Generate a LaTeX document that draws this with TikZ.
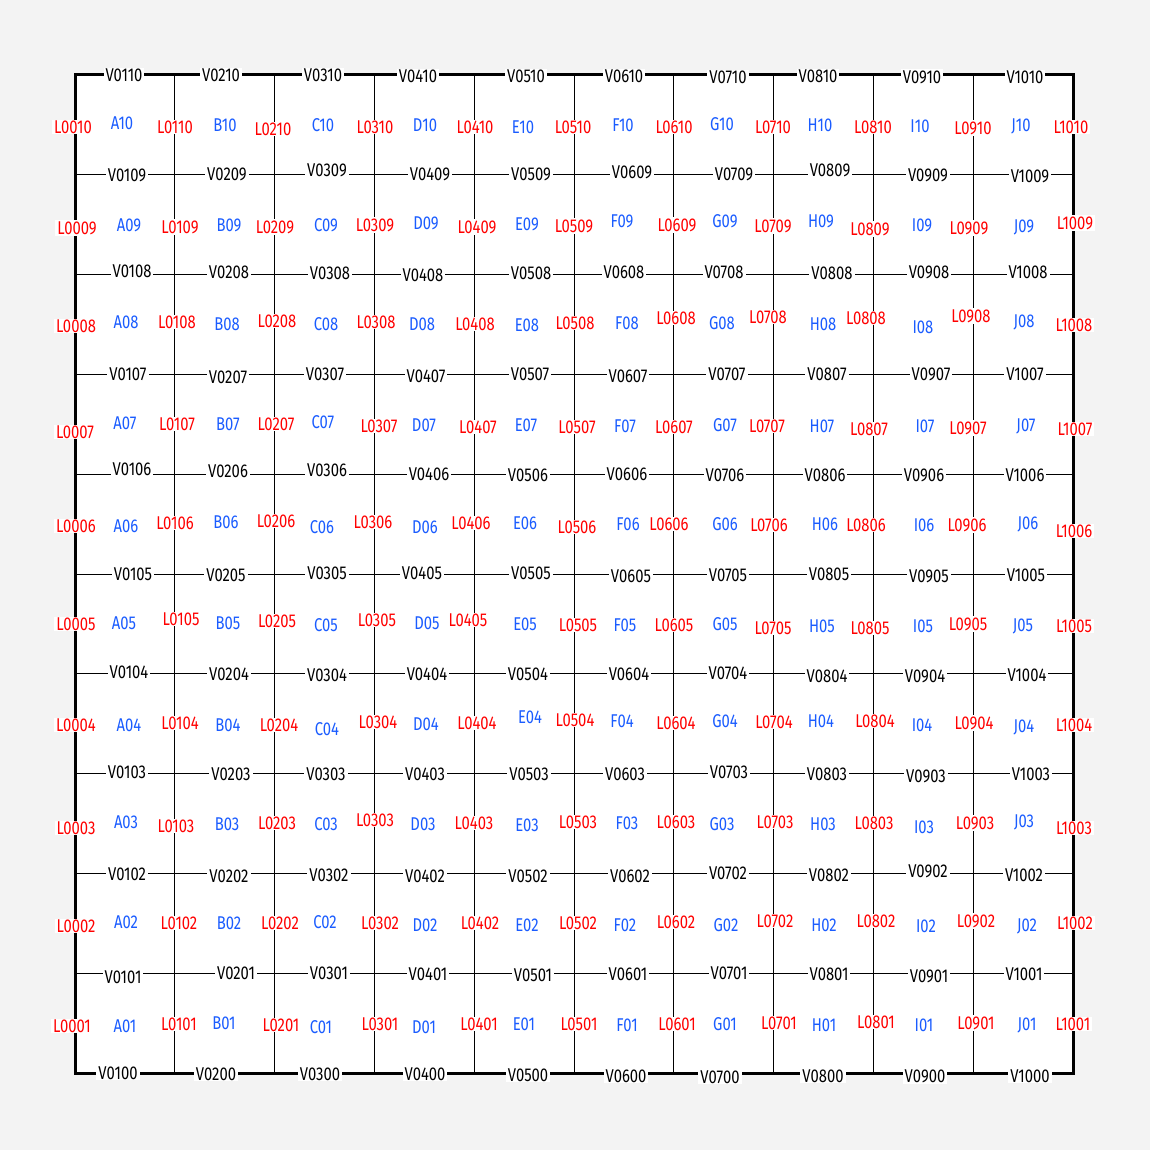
\documentclass[tikz,border=0pt]{standalone}
\usepackage{fontspec}
\setmainfont[FakeStretch=0.8]{Fira Sans}
\definecolor{bgcol}{HTML}{F3F3F3}
\definecolor{lred}{HTML}{FF0000}
\definecolor{cblue}{HTML}{1A5CFF}
\tikzset{
  lab/.style={fill=white,inner xsep=2pt,inner ysep=1pt,font=\fontsize{18.5}{18.5}\selectfont},
  vlab/.style={lab,text=black},
  llab/.style={lab,text=lred},
  clab/.style={lab,text=cblue},
  thin grid/.style={line width=1pt,black},
  frame/.style={line width=3pt,black,line cap=rect}
}
\begin{document}
\begin{tikzpicture}[x=1pt,y=-1pt]
\useasboundingbox (0,0) rectangle (1150,1150);
\fill[bgcol] (0,0) rectangle (1150,1150);
\foreach \i in {0,...,10}{
  \foreach \j in {0,...,10}{
    \coordinate (g-\i-\j) at ({75+99.8*\i},{1073-99.8*\j});
  }
}
\fill[white] (g-0-0) rectangle (g-10-10);
\foreach \k in {1,...,9}{
  \draw[thin grid] (g-\k-0) -- (g-\k-10);
  \draw[thin grid] (g-0-\k) -- (g-10-\k);
}
\draw[frame] (g-0-0) rectangle (g-10-10);
% horizontal-edge labels
\foreach \n/\x/\y in {
V0110/124/75, V0210/221/75, V0310/323/75, V0410/418/76, V0510/526/76, V0610/624/76, V0710/728/77, V0810/818/76, V0910/922/77, V1010/1025/77,
V0109/127/175, V0209/227/174, V0309/327/170, V0409/430/174, V0509/531/174, V0609/632/172, V0709/734/174, V0809/830/170, V0909/928/175, V1009/1030/176,
V0108/132/271, V0208/229/272, V0308/330/273, V0408/423/275, V0508/531/273, V0608/624/272, V0708/724/272, V0808/832/273, V0908/929/272, V1008/1028/272,
V0107/128/374, V0207/228/377, V0307/325/374, V0407/426/376, V0507/530/374, V0607/628/376, V0707/727/374, V0807/827/374, V0907/931/374, V1007/1025/374,
V0106/132/469, V0206/228/471, V0306/327/470, V0406/429/474, V0506/528/475, V0606/627/474, V0706/725/475, V0806/825/475, V0906/924/475, V1006/1025/475,
V0105/133/574, V0205/226/575, V0305/327/573, V0405/422/573, V0505/531/573, V0605/631/576, V0705/728/575, V0805/829/574, V0905/929/576, V1005/1026/575,
V0104/129/672, V0204/229/674, V0304/327/675, V0404/427/674, V0504/528/674, V0604/629/674, V0704/728/673, V0804/827/676, V0904/925/676, V1004/1027/675,
V0103/127/772, V0203/231/774, V0303/326/774, V0403/425/774, V0503/529/774, V0603/625/774, V0703/729/772, V0803/827/774, V0903/926/776, V1003/1031/774,
V0102/127/874, V0202/229/876, V0302/329/875, V0402/425/876, V0502/528/876, V0602/630/876, V0702/728/873, V0802/829/875, V0902/928/871, V1002/1024/875,
V0101/123/977, V0201/236/973, V0301/329/973, V0401/428/974, V0501/533/975, V0601/628/974, V0701/729/973, V0801/829/974, V0901/929/976, V1001/1024/974,
V0100/118/1073, V0200/216/1074, V0300/320/1074, V0400/425/1074, V0500/528/1075, V0600/626/1076, V0700/720/1077, V0800/823/1076, V0900/925/1076, V1000/1030/1076}
  \node[vlab] (\n) at (\x,\y) {\n};
% vertical-edge labels
\foreach \n/\x/\y in {
L0010/73/127, L0110/175/127, L0210/273/129, L0310/375/127, L0410/475/127, L0510/573/127, L0610/674/127, L0710/773/127, L0810/873/127, L0910/973/128, L1010/1071/127,
L0009/77/228, L0109/180/227, L0209/275/227, L0309/375/225, L0409/477/227, L0509/574/226, L0609/677/225, L0709/773/226, L0809/870/229, L0909/969/228, L1009/1075/223,
L0008/76/326, L0108/177/322, L0208/277/321, L0308/376/322, L0408/475/324, L0508/575/323, L0608/676/318, L0708/768/317, L0808/866/318, L0908/971/316, L1008/1074/325,
L0007/75/432, L0107/177/424, L0207/276/424, L0307/379/426, L0407/478/427, L0507/577/427, L0607/674/427, L0707/767/426, L0807/869/429, L0907/968/428, L1007/1075/429,
L0006/76/526, L0106/175/523, L0206/276/521, L0306/373/522, L0406/471/523, L0506/577/527, L0606/669/524, L0706/769/525, L0806/866/525, L0906/967/525, L1006/1074/531,
L0005/76/624, L0105/181/619, L0205/277/621, L0305/377/620, L0405/468/620, L0505/578/625, L0605/674/625, L0705/773/628, L0805/870/628, L0905/968/624, L1005/1074/626,
L0004/76/725, L0104/180/723, L0204/279/725, L0304/378/722, L0404/477/723, L0504/575/720, L0604/676/723, L0704/774/722, L0804/875/721, L0904/974/723, L1004/1074/725,
L0003/76/828, L0103/176/826, L0203/277/823, L0303/375/820, L0403/474/823, L0503/578/822, L0603/676/822, L0703/775/822, L0803/874/823, L0903/975/823, L1003/1074/828,
L0002/76/926, L0102/179/923, L0202/280/923, L0302/380/923, L0402/480/923, L0502/578/923, L0602/676/922, L0702/775/921, L0802/876/921, L0902/976/921, L1002/1075/923,
L0001/72/1026, L0101/179/1024, L0201/281/1025, L0301/380/1024, L0401/479/1024, L0501/579/1024, L0601/677/1024, L0701/779/1023, L0801/876/1022, L0901/976/1023, L1001/1073/1024}
  \node[llab] (\n) at (\x,\y) {\n};
% cell labels
\foreach \n/\x/\y in {
A10/122/123, B10/225/125, C10/323/125, D10/425/125, E10/523/127, F10/623/125, G10/722/124, H10/820/125, I10/920/126, J10/1021/126,
A09/129/225, B09/229/225, C09/326/225, D09/426/223, E09/527/224, F09/622/221, G09/725/221, H09/821/221, I09/922/225, J09/1024/227,
A08/126/322, B08/227/324, C08/326/324, D08/422/324, E08/527/325, F08/627/323, G08/722/323, H08/823/324, I08/923/327, J08/1024/322,
A07/125/423, B07/228/424, C07/323/422, D07/424/425, E07/526/425, F07/625/426, G07/725/425, H07/822/426, I07/925/426, J07/1026/426,
A06/126/526, B06/226/522, C06/322/527, D06/425/527, E06/525/523, F06/628/524, G06/725/524, H06/825/524, I06/924/525, J06/1028/524,
A05/124/623, B05/228/623, C05/326/625, D05/427/623, E05/525/624, F05/625/625, G05/725/624, H05/822/626, I05/923/626, J05/1023/626,
A04/129/725, B04/228/725, C04/327/729, D04/426/724, E04/530/717, F04/622/721, G04/725/721, H04/821/721, I04/922/725, J04/1024/727,
A03/126/822, B03/227/824, C03/326/824, D03/423/824, E03/527/825, F03/627/823, G03/722/824, H03/823/824, I03/924/827, J03/1024/822,
A02/126/922, B02/229/923, C02/325/922, D02/425/925, E02/527/925, F02/625/925, G02/726/925, H02/824/925, I02/926/926, J02/1027/926,
A01/125/1026, B01/224/1023, C01/321/1027, D01/424/1027, E01/524/1024, F01/627/1025, G01/725/1024, H01/824/1025, I01/924/1025, J01/1027/1025}
  \node[clab] (\n) at (\x,\y) {\n};
\end{tikzpicture}
\end{document}
